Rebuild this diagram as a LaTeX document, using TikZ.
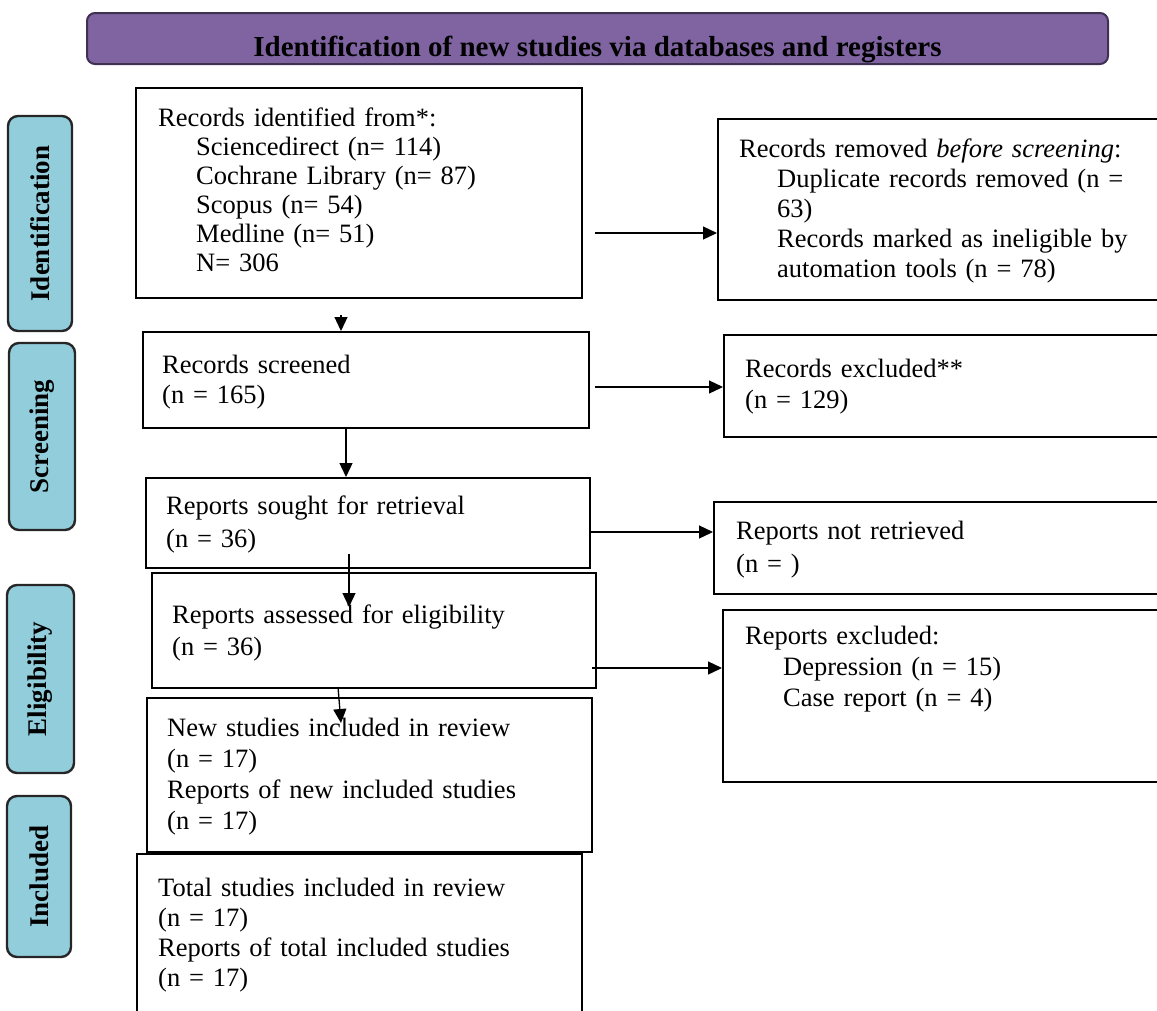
\documentclass[tikz,border=0pt]{standalone}
\usepackage{fontspec}
\setmainfont{Liberation Serif}
\usetikzlibrary{calc,positioning,arrows.meta}
\definecolor{bannerfill}{HTML}{8064A2}
\definecolor{bannerline}{HTML}{3F3151}
\definecolor{phasefill}{HTML}{92CDDC}
\tikzset{
flowbox/.style={
  draw,
  line width=2.4pt,
  inner sep=0pt,
  anchor=north west
  },
flowtxt/.style={
  anchor=base west,
  inner sep=0pt,
  text width=560pt,
  align=left,
  font=\fontsize{26.5}{#1}\selectfont
  },
flowtxt/.default=30,
phase/.style={
  draw=black!85,
  fill=phasefill,
  line width=2.4pt,
  rounded corners=10pt,
  rotate=90,
  inner sep=0pt,
  font=\fontsize{27}{27}\selectfont\bfseries
  },
banner/.style={
  draw=bannerline,
  fill=bannerfill,
  line width=2pt,
  rounded corners=8pt,
  inner sep=0pt,
  anchor=north west
  },
arr/.style={-{Triangle[length=14pt,width=13pt]}, line width=1.3pt}
}
\begin{document}
\begin{tikzpicture}[x=1pt,y=-1pt]
    \useasboundingbox (0,0) rectangle (1157,1010);
    % banner
    \node[banner, minimum width=1021pt, minimum height=51pt] (hdr) at (86,12) {};
    \node[anchor=base, inner sep=0pt, font=\fontsize{29}{29}\selectfont\bfseries] (hdrtxt)
        at ([yshift=9pt]hdr.south) {Identification of new studies via databases and registers};
    % phases
    \node[phase, minimum width=215pt, minimum height=64pt] (idphase) at (40,223.5) {Identification};
    \node[phase, minimum width=187pt, minimum height=66pt] (scphase) at (42,436.5) {Screening};
    \node[phase, minimum width=188pt, minimum height=67pt] (elphase) at (40.5,679) {Eligibility};
    \node[phase, minimum width=161pt, minimum height=64pt] (inphase) at (39,876.5) {Included};
    % main column
    \node[flowbox, minimum width=446pt, minimum height=210pt] (ident) at (135,87) {};
    \node[flowbox, minimum width=446pt, minimum height=96pt] (scr) at (142,331) {};
    \node[flowbox, minimum width=444pt, minimum height=90pt] (sought) at (145,477) {};
    \node[flowbox, minimum width=444pt, minimum height=115pt] (assess) at (151,572) {};
    \node[flowbox, minimum width=445pt, minimum height=154pt] (newinc) at (146,697) {};
    \node[flowbox, minimum width=445pt, minimum height=172pt] (totinc) at (136,853) {};
    % side column
    \node[flowbox, minimum width=458pt, minimum height=181pt] (remv) at (717,118) {};
    \node[flowbox, minimum width=452pt, minimum height=102pt] (excl) at (723,334) {};
    \node[flowbox, minimum width=462pt, minimum height=92pt] (notret) at (713,501) {};
    \node[flowbox, minimum width=453pt, minimum height=172pt] (rexcl) at (722,609) {};
    % texts
    \node[flowtxt=29] (identtxt) at ([xshift=23pt,yshift=-39pt]ident.north west)
        {Records identified from*:\\
        \hspace*{38pt}Sciencedirect (n= 114)\\
        \hspace*{38pt}Cochrane Library (n= 87)\\
        \hspace*{38pt}Scopus (n= 54)\\
        \hspace*{38pt}Medline (n= 51)\\
        \hspace*{38pt}N= 306};
    \node[flowtxt] (scrtxt) at ([xshift=20pt,yshift=-42pt]scr.north west)
        {Records screened\\(n = 165)};
    \node[flowtxt=33] (soughttxt) at ([xshift=21pt,yshift=-37pt]sought.north west)
        {Reports sought for retrieval\\(n = 36)};
    \node[flowtxt=32] (assesstxt) at ([xshift=21pt,yshift=-51pt]assess.north west)
        {Reports assessed for eligibility\\(n = 36)};
    \node[flowtxt=31] (newinctxt) at ([xshift=21pt,yshift=-39pt]newinc.north west)
        {New studies included in review\\(n = 17)\\Reports of new included studies\\(n = 17)};
    \node[flowtxt] (totinctxt) at ([xshift=22pt,yshift=-43pt]totinc.north west)
        {Total studies included in review\\(n = 17)\\Reports of total included studies\\(n = 17)};
    \node[flowtxt] (remvtxt) at ([xshift=22pt,yshift=-39pt]remv.north west)
        {Records removed \textit{before screening}:\\
        \hspace*{38pt}Duplicate records removed (n =\\
        \hspace*{38pt}63)\\
        \hspace*{38pt}Records marked as ineligible by\\
        \hspace*{38pt}automation tools (n = 78)};
    \node[flowtxt=31] (excltxt) at ([xshift=22pt,yshift=-43pt]excl.north west)
        {Records excluded**\\(n = 129)};
    \node[flowtxt=33] (notrettxt) at ([xshift=23pt,yshift=-38pt]notret.north west)
        {Reports not retrieved\\(n = )};
    \node[flowtxt=31] (rexcltxt) at ([xshift=23pt,yshift=-35pt]rexcl.north west)
        {Reports excluded:\\
        \hspace*{38pt}Depression (n = 15)\\
        \hspace*{38pt}Case report (n = 4)};
    % arrows down
    \coordinate (d1) at (341,315);
    \coordinate (d2) at (346,427);
    \coordinate (d3) at (349,554);
    \coordinate (d3e) at (349,607);
    \coordinate (d4) at (338,687);
    \coordinate (d4e) at (341,723);
    \draw[arr] (d1) -- (d1 |- scr.north);
    \draw[arr] (d2) -- (d2 |- sought.north);
    \draw[arr] (d3) -- (d3e);
    \draw[arr] (d4) -- (d4e);
    % arrows right
    \coordinate (r1) at (595,233);
    \coordinate (r2) at (595,387);
    \coordinate (r3) at (589,532);
    \coordinate (r4) at (592,668);
    \draw[arr] (r1) -- (r1 -| remv.west);
    \draw[arr] (r2) -- (r2 -| excl.west);
    \draw[arr] (r3) -- (r3 -| notret.west);
    \draw[arr] (r4) -- (r4 -| rexcl.west);
\end{tikzpicture}
\end{document}
